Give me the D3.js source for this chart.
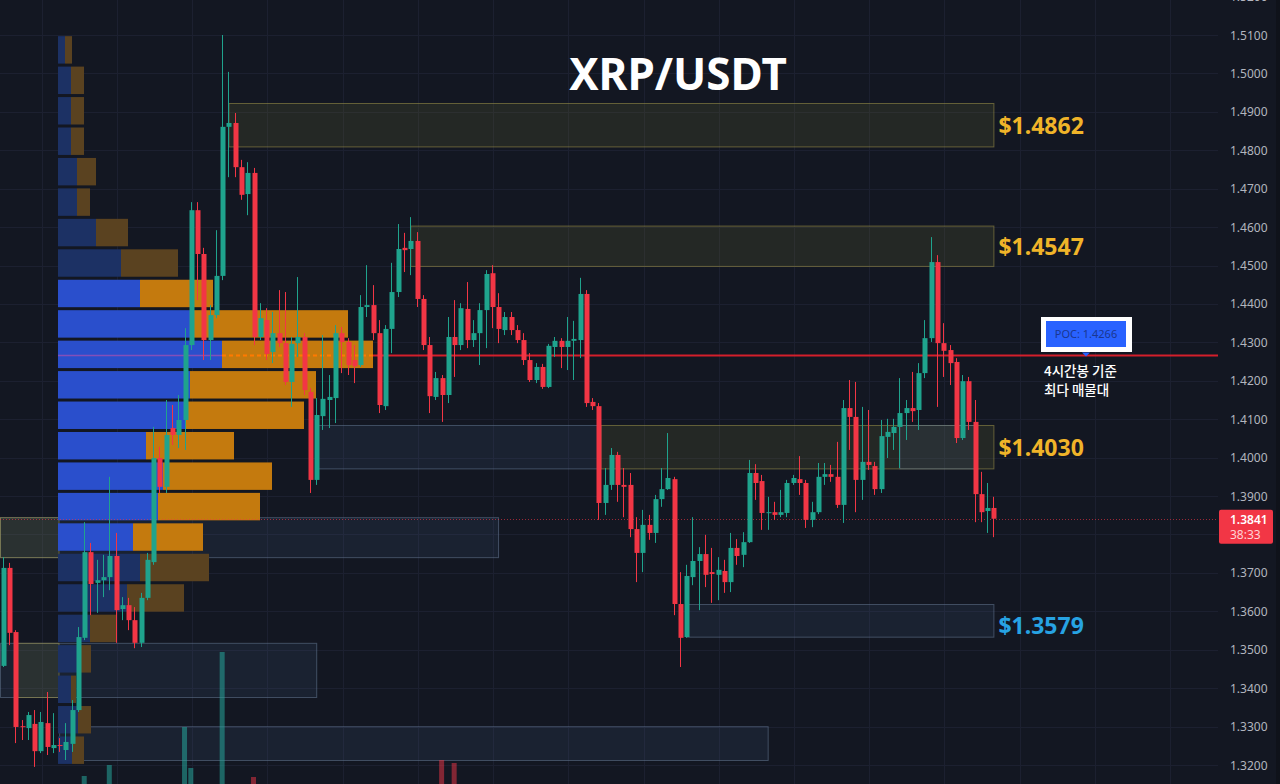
<!DOCTYPE html>
<html><head><meta charset="utf-8">
<script src="https://cdn.jsdelivr.net/npm/d3@7"></script>
<style>
html,body{margin:0;padding:0;background:#131722;overflow:hidden;}
svg{display:block;}
</style></head><body>
<svg id="chart" width="1280" height="784"></svg>
<script>
// ---------- DATA ----------
const candleOpen = [1.3458,1.3713,1.3546,1.3301,1.3296,1.3307,1.3236,1.3309,1.3244,1.3252,1.3239,1.3255,1.3343,1.3531,1.3754,1.3674,1.3681,1.3689,1.3744,1.3606,
1.3616,1.3577,1.3518,1.3635,1.3728,1.3999,1.3924,1.4077,1.4059,1.4098,1.4293,1.4644,1.4530,1.4306,1.4371,1.4473,1.4861,1.4871,1.4756,1.4686,
1.4741,1.4314,1.4358,1.4275,1.4324,1.4298,1.4197,1.4298,1.4314,1.4171,1.3942,1.4108,1.4150,1.4155,1.4324,1.4301,1.4254,1.4241,1.4392,1.4397,
1.4324,1.4134,1.4335,1.4431,1.4546,1.4543,1.4564,1.4413,1.4293,1.4158,1.4207,1.4163,1.4314,1.4293,1.4387,1.4306,1.4324,1.4384,1.4480,1.4392,
1.4332,1.4366,1.4332,1.4306,1.4254,1.4202,1.4236,1.4184,1.4288,1.4304,1.4288,1.4304,1.4306,1.4426,1.4145,1.4134,1.3882,1.3929,1.4007,1.3929,
1.3929,1.3814,1.3752,1.3825,1.3804,1.3892,1.3918,1.3944,1.3619,1.3533,1.3689,1.3731,1.3749,1.3702,1.3695,1.3705,1.3676,1.3765,1.3747,1.3780,
1.3960,1.3939,1.3856,1.3858,1.3851,1.3856,1.3934,1.3944,1.3934,1.3838,1.3858,1.3950,1.3957,1.3950,1.3877,1.4129,1.4106,1.3942,1.3989,1.3978,
1.3918,1.4054,1.4064,1.4080,1.4116,1.4129,1.4124,1.4220,1.4311,1.4509,1.4298,1.4280,1.4249,1.4051,1.4199,1.4093,1.3905,1.3861,1.3869];
const candleHigh = [1.3741,1.3726,1.3551,1.3317,1.3338,1.3343,1.3338,1.3390,1.3335,1.3270,1.3309,1.3369,1.3559,1.3832,1.3778,1.3734,1.3747,1.3950,1.3804,1.3637,
1.3635,1.3611,1.3648,1.3752,1.4080,1.4028,1.4150,1.4137,1.4163,1.4337,1.4665,1.4665,1.4546,1.4397,1.4592,1.5100,1.5004,1.4897,1.4775,1.4769,
1.4754,1.4402,1.4389,1.4379,1.4436,1.4431,1.4314,1.4470,1.4324,1.4181,1.4155,1.4319,1.4215,1.4345,1.4340,1.4311,1.4293,1.4423,1.4501,1.4449,
1.4358,1.4345,1.4507,1.4608,1.4585,1.4626,1.4587,1.4423,1.4314,1.4223,1.4215,1.4366,1.4410,1.4402,1.4457,1.4358,1.4402,1.4488,1.4501,1.4428,
1.4379,1.4379,1.4345,1.4324,1.4272,1.4246,1.4244,1.4296,1.4314,1.4311,1.4366,1.4356,1.4468,1.4436,1.4155,1.4142,1.3973,1.4025,1.4015,1.3973,
1.3960,1.3845,1.3864,1.3851,1.3903,1.3973,1.4064,1.3950,1.3702,1.3721,1.3845,1.3767,1.3799,1.3765,1.3741,1.3734,1.3804,1.3788,1.3806,1.3994,
1.3983,1.3955,1.3898,1.3885,1.3916,1.3942,1.3955,1.4004,1.3942,1.3885,1.3986,1.3986,1.3981,1.4041,1.4150,1.4202,1.4197,1.4132,1.4124,1.3989,
1.4098,1.4101,1.4101,1.4207,1.4150,1.4223,1.4246,1.4358,1.4574,1.4527,1.4350,1.4293,1.4259,1.4215,1.4210,1.4150,1.3963,1.3934,1.3898];
const candleLow = [1.3455,1.3512,1.3257,1.3265,1.3265,1.3195,1.3231,1.3226,1.3231,1.3234,1.3213,1.3234,1.3338,1.3525,1.3590,1.3596,1.3637,1.3655,1.3518,1.3577,
1.3551,1.3504,1.3507,1.3629,1.3721,1.3908,1.3908,1.4033,1.4025,1.4020,1.4280,1.4410,1.4254,1.4254,1.4363,1.4462,1.4730,1.4730,1.4671,1.4631,
1.4293,1.4306,1.4254,1.4246,1.4288,1.4189,1.4132,1.4262,1.4163,1.3908,1.3929,1.4072,1.4077,1.4090,1.4220,1.4215,1.4194,1.4236,1.4366,1.4306,
1.4116,1.4124,1.4272,1.4418,1.4483,1.4475,1.4392,1.4280,1.4116,1.4150,1.4093,1.4142,1.4210,1.4280,1.4285,1.4288,1.4241,1.4285,1.4337,1.4298,
1.4319,1.4319,1.4298,1.4241,1.4197,1.4194,1.4179,1.4181,1.4262,1.4233,1.4228,1.4202,1.4259,1.4132,1.4124,1.3838,1.3851,1.3916,1.3885,1.3845,
1.3793,1.3676,1.3702,1.3786,1.3778,1.3872,1.3916,1.3590,1.3455,1.3531,1.3668,1.3603,1.3663,1.3622,1.3629,1.3648,1.3650,1.3721,1.3715,1.3778,
1.3890,1.3812,1.3812,1.3838,1.3845,1.3845,1.3929,1.3903,1.3817,1.3819,1.3853,1.3929,1.3937,1.3869,1.3830,1.4020,1.3858,1.3890,1.3968,1.3903,
1.3908,1.3999,1.4020,1.3973,1.4046,1.4093,1.4072,1.4207,1.4301,1.4132,1.4210,1.4189,1.4038,1.4046,1.4072,1.3832,1.3832,1.3804,1.3793];
const candleClose = [1.3713,1.3544,1.3299,1.3299,1.3330,1.3236,1.3312,1.3247,1.3252,1.3251,1.3260,1.3343,1.3533,1.3754,1.3671,1.3681,1.3689,1.3744,1.3603,1.3616,
1.3577,1.3518,1.3635,1.3734,1.3999,1.3924,1.4059,1.4059,1.4098,1.4293,1.4644,1.4530,1.4306,1.4371,1.4473,1.4861,1.4871,1.4756,1.4684,1.4741,
1.4314,1.4363,1.4270,1.4324,1.4298,1.4197,1.4296,1.4314,1.4176,1.3942,1.4111,1.4153,1.4158,1.4324,1.4301,1.4241,1.4238,1.4392,1.4397,1.4324,
1.4137,1.4335,1.4431,1.4543,1.4540,1.4564,1.4413,1.4293,1.4160,1.4207,1.4163,1.4314,1.4293,1.4389,1.4306,1.4324,1.4384,1.4478,1.4392,1.4335,
1.4366,1.4332,1.4306,1.4254,1.4202,1.4236,1.4184,1.4291,1.4304,1.4288,1.4304,1.4309,1.4426,1.4142,1.4134,1.3882,1.3929,1.4007,1.3929,1.3924,
1.3814,1.3752,1.3825,1.3804,1.3892,1.3918,1.3947,1.3619,1.3531,1.3692,1.3731,1.3749,1.3695,1.3697,1.3708,1.3676,1.3765,1.3744,1.3780,1.3960,
1.3934,1.3856,1.3858,1.3851,1.3858,1.3934,1.3947,1.3934,1.3838,1.3858,1.3950,1.3957,1.3950,1.3877,1.4129,1.4106,1.3942,1.3989,1.3981,1.3918,
1.4056,1.4067,1.4080,1.4116,1.4129,1.4121,1.4220,1.4311,1.4509,1.4298,1.4278,1.4246,1.4051,1.4199,1.4093,1.3905,1.3858,1.3869,1.3841];

// visible volume spikes (candle index, volume)
const volumeIndex = [13,17,29,30,35,40,70,72];
const volumeValue = [28,39,77,36,152,27,44,41];

// volume profile (24 rows, top to bottom), buy / sell volume
const profileBuy  = [7,13,13,13,19,19,38,63,82,132,164,132,127,88,105,100,75,82,69,32,22,13,20,14];
const profileSell = [7,13,13,13,19,13,32,57,73,158,151,126,119,88,109,102,70,69,57,26,11,5,13,12];
const profileRange = [1.3195, 1.5097];
const valueArea = [1.3752, 1.4460];
const pocPrice = 1.4266;

// zones: start/end candle index, top/bottom price, kind
const zoneStart  = [36, 65, 50, 95.3, 143, 109, -2, -2, -2, 2.3, 9];
const zoneEnd    = [158, 158, 95.3, 158, 155, 158, 79, 8.9, 50, 8.9, 122];
const zoneTop    = [1.4923, 1.4604, 1.4085, 1.4085, 1.4085, 1.3619, 1.3845, 1.3845, 1.3518, 1.3518, 1.3301];
const zoneBottom = [1.4810, 1.4499, 1.3972, 1.3972, 1.3972, 1.3534, 1.3741, 1.3741, 1.3377, 1.3377, 1.3213];
const zoneKind   = ['olive','olive','blue','olive','blue','blue','blue','olive','blue','olive','blue'];

const zoneLabels = ['$1.4862', '$1.4547', '$1.4030', '$1.3579'];
const zoneLabelAt = [1.4867, 1.4552, 1.4028, 1.3565];
const zoneLabelColor = ['#f0b429', '#f0b429', '#f0b429', '#27a3e3'];

const tickValues = [1.32,1.33,1.34,1.35,1.36,1.37,1.38,1.39,1.40,1.41,1.42,1.43,1.44,1.45,1.46,1.47,1.48,1.49,1.50,1.51,1.52];
const tickLabels = ["1.3200","1.3300","1.3400","1.3500","1.3600","1.3700","1.3800","1.3900","1.4000","1.4100","1.4200","1.4300","1.4400","1.4500","1.4600","1.4700","1.4800","1.4900","1.5000","1.5100","1.5200"];
const timeGridIndex = [6.2,18.2,30.2,42.2,54.2,66.2,78.2,90.2,102.2,114.2,126.2,138.2,150.2,162.2,174.2,186.2];

const lastPrice = 1.3841;
const lastLabel = "1.3841";
const countdown = "38:33";
const title = "XRP/USDT";
const pocLabel = "POC: 1.4266";
const pocNote = ["4시간봉 기준", "최다 매물대"];

// ---------- DRAW ----------
const W = 1280, H = 784, plotRight = 1218;
const svg = d3.select('#chart');
const y = d3.scaleLinear().domain([1.32, 1.51]).range([765, 35]);
const x = d3.scaleLinear().domain([0, 158]).range([2.7, 993.4]);
const UP = '#1fa38d', DOWN = '#f23645';

svg.append('rect').attr('width', W).attr('height', H).attr('fill', '#131722');

// grid
const g = svg.append('g');
g.selectAll('line.h').data(tickValues).join('line')
  .attr('x1', 0).attr('x2', plotRight)
  .attr('y1', d => Math.round(y(d)) + 0.5).attr('y2', d => Math.round(y(d)) + 0.5)
  .attr('stroke', '#1c2030').attr('stroke-width', 1);
g.selectAll('line.v').data(timeGridIndex).join('line')
  .attr('y1', 0).attr('y2', H)
  .attr('x1', d => Math.round(x(d)) + 0.5).attr('x2', d => Math.round(x(d)) + 0.5)
  .attr('stroke', '#1c2030').attr('stroke-width', 1);

// zones
const zones = zoneStart.map((s, i) => ({s, e: zoneEnd[i], t: zoneTop[i], b: zoneBottom[i], k: zoneKind[i]}));
svg.append('g').selectAll('rect').data(zones).join('rect')
  .attr('x', d => Math.max(0, x(d.s)) + 0.5)
  .attr('y', d => y(d.t) + 0.5)
  .attr('width', d => x(d.e) - Math.max(0, x(d.s)))
  .attr('height', d => y(d.b) - y(d.t))
  .attr('fill', d => d.k === 'olive' ? 'rgba(125,122,55,0.17)' : 'rgba(70,95,130,0.16)')
  .attr('stroke', d => d.k === 'olive' ? 'rgba(160,150,75,0.55)' : 'rgba(100,120,145,0.55)')
  .attr('stroke-width', 1);

// volume profile
const nRows = profileBuy.length;
const bin = (profileRange[1] - profileRange[0]) / nRows;
const pv = d3.scaleLinear().domain([0, 315]).range([58, 373]);
const rows = profileBuy.map((b, k) => {
  const top = profileRange[1] - k * bin, bot = top - bin, mid = (top + bot) / 2;
  return {b, s: profileSell[k], top, bot, va: mid >= valueArea[0] && mid <= valueArea[1]};
});
const pg = svg.append('g');
pg.selectAll('rect.buy').data(rows).join('rect')
  .attr('x', pv(0)).attr('y', d => y(d.top))
  .attr('width', d => pv(d.b) - pv(0)).attr('height', d => y(d.bot) - y(d.top) - 3)
  .attr('fill', d => d.va ? '#2a4fcc' : '#1c3164');
pg.selectAll('rect.sell').data(rows).join('rect')
  .attr('x', d => pv(d.b)).attr('y', d => y(d.top))
  .attr('width', d => pv(d.b + d.s) - pv(d.b)).attr('height', d => y(d.bot) - y(d.top) - 3)
  .attr('fill', d => d.va ? '#c47a0e' : '#5a4220');

// volume bars
const vy = d3.scaleLinear().domain([20, 152]).range([784, 652]);
svg.append('g').selectAll('rect').data(volumeIndex.map((ix, i) => ({ix, v: volumeValue[i]}))).join('rect')
  .attr('x', d => x(d.ix) - 2.5).attr('width', 5)
  .attr('y', d => vy(d.v)).attr('height', d => 784 - vy(d.v))
  .attr('fill', d => candleClose[d.ix] >= candleOpen[d.ix] ? 'rgba(38,166,154,0.55)' : 'rgba(242,54,69,0.5)');

// POC line
const pocRow = rows.find(r => pocPrice <= r.top && pocPrice >= r.bot);
const yp = Math.round(y(pocPrice)) + 0.5;
svg.append('line').attr('x1', pv(0)).attr('x2', pv(pocRow.b)).attr('y1', yp).attr('y2', yp)
  .attr('stroke', '#9a4fb5').attr('stroke-width', 1.5).attr('opacity', 0.8);
svg.append('line').attr('x1', pv(pocRow.b)).attr('x2', pv(pocRow.b + pocRow.s)).attr('y1', yp).attr('y2', yp)
  .attr('stroke', '#ff7a00').attr('stroke-width', 2).attr('stroke-dasharray', '4,3');
svg.append('line').attr('x1', pv(pocRow.b + pocRow.s)).attr('x2', plotRight).attr('y1', yp).attr('y2', yp)
  .attr('stroke', '#d41f2b').attr('stroke-width', 2);

// last price line
const yl = Math.round(y(lastPrice)) + 0.5;
svg.append('line').attr('x1', 0).attr('x2', plotRight).attr('y1', yl).attr('y2', yl)
  .attr('stroke', '#f23645').attr('stroke-width', 1).attr('stroke-dasharray', '1,2').attr('opacity', 0.6);

// candles
const candles = candleOpen.map((o, i) => ({i, o, h: candleHigh[i], l: candleLow[i], c: candleClose[i]}));
const cg = svg.append('g');
cg.selectAll('line').data(candles).join('line')
  .attr('x1', d => Math.round(x(d.i)) + 0.5).attr('x2', d => Math.round(x(d.i)) + 0.5)
  .attr('y1', d => y(d.h)).attr('y2', d => y(d.l))
  .attr('stroke', d => d.c >= d.o ? UP : DOWN).attr('stroke-width', 1);
cg.selectAll('rect').data(candles).join('rect')
  .attr('x', d => Math.round(x(d.i)) - 1.5).attr('width', 5)
  .attr('y', d => y(Math.max(d.o, d.c)))
  .attr('height', d => Math.max(1, Math.abs(y(d.o) - y(d.c))))
  .attr('fill', d => d.c >= d.o ? UP : DOWN);

// zone labels
const zl = zoneLabels.map((t, i) => ({t, p: zoneLabelAt[i], c: zoneLabelColor[i]}));
svg.append('g').selectAll('text').data(zl).join('text')
  .attr('x', x(158) + 5).attr('y', d => y(d.p))
  .attr('dominant-baseline', 'central')
  .attr('font-family', 'Noto Sans, sans-serif').attr('font-weight', 700).attr('font-size', 23)
  .attr('fill', d => d.c).text(d => d.t);

// title
svg.append('text').attr('x', 678).attr('y', 90).attr('text-anchor', 'middle')
  .attr('font-family', 'Noto Sans, sans-serif').attr('font-weight', 700).attr('font-size', 44)
  .attr('fill', '#ffffff').text(title);

// POC callout
svg.append('rect').attr('x', 1041).attr('y', 317).attr('width', 91).attr('height', 35).attr('fill', '#ffffff');
svg.append('rect').attr('x', 1046).attr('y', 321).attr('width', 80).attr('height', 26).attr('fill', '#2962ff');
svg.append('text').attr('x', 1086).attr('y', 338).attr('text-anchor', 'middle')
  .attr('font-family', 'Noto Sans, sans-serif').attr('font-size', 11).attr('fill', '#1a3790').text(pocLabel);
svg.append('path').attr('d', `M1082,${yp - 3} L1090,${yp - 3} L1086,${yp + 1} Z`).attr('fill', '#2962ff');
svg.append('g').selectAll('text').data(pocNote).join('text')
  .attr('x', 1044).attr('y', (d, i) => 376 + i * 19)
  .attr('font-family', 'Noto Sans CJK KR, sans-serif').attr('font-weight', 500).attr('font-size', 13.5)
  .attr('fill', '#ffffff').text(d => d);

// right axis labels (the one under the last-price tag is hidden, as in the original)
const tagTop = y(lastPrice) - 9, tagBottom = y(lastPrice) + 25;
const axisTicks = tickValues.map((v, i) => ({v, t: tickLabels[i]}))
  .filter(d => y(d.v) + 7 < tagTop || y(d.v) - 7 > tagBottom);
svg.append('g').selectAll('text').data(axisTicks).join('text')
  .attr('x', 1230).attr('y', d => y(d.v)).attr('dominant-baseline', 'central')
  .attr('font-family', 'Noto Sans, sans-serif').attr('font-size', 12).attr('fill', '#b2b5be')
  .text(d => d.t);

// last price tag
svg.append('rect').attr('x', 1219).attr('y', tagTop).attr('width', 54).attr('height', 34).attr('rx', 2).attr('fill', '#f23645');
svg.append('text').attr('x', 1230).attr('y', y(lastPrice) + 5).attr('font-family', 'Noto Sans, sans-serif')
  .attr('font-size', 12).attr('font-weight', 600).attr('fill', '#ffffff').text(lastLabel);
svg.append('text').attr('x', 1230).attr('y', y(lastPrice) + 20).attr('font-family', 'Noto Sans, sans-serif')
  .attr('font-size', 12).attr('fill', '#ffd3d7').text(countdown);

svg.append('rect').attr('x', 1276).attr('y', 0).attr('width', 4).attr('height', H).attr('fill', '#0f121a');
</script>
</body></html>
